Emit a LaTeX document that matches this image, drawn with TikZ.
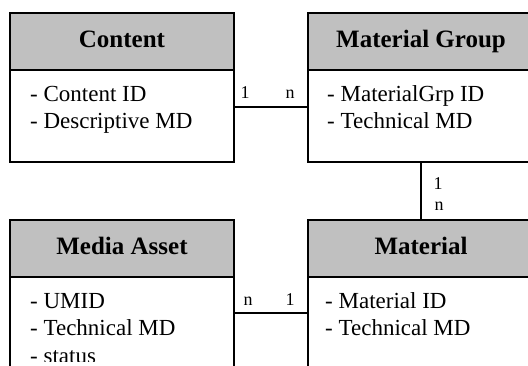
\documentclass[tikz,border=0pt]{standalone}
\usepackage{fontspec}
\setmainfont{Liberation Serif}
\begin{document}
\begin{tikzpicture}[x=1pt,y=-1pt,
  hdr/.style={draw=black,line width=1.6pt,fill={rgb,255:red,192;green,192;blue,192},
    minimum height=57pt,inner sep=0pt,font=\fontsize{25}{28}\selectfont\bfseries,
    text height=17pt,text depth=5pt},
  bodybox/.style={draw=black,line width=1.6pt,fill=white,inner sep=0pt},
  attr/.style={anchor=base west,inner sep=0pt,font=\fontsize{23}{26}\selectfont},
  card/.style={anchor=base,inner sep=0pt,font=\fontsize{18}{20}\selectfont},
  conn/.style={line width=1.6pt}]
\useasboundingbox (0,0) rectangle (528,365);
\clip (0,0) rectangle (528,365);
\fill[white] (0,0) rectangle (528,365);

% bodies
\node[bodybox,minimum width=224pt,minimum height=92pt] (cbody) at (122,116) {};
\node[bodybox,minimum width=226pt,minimum height=92pt] (gbody) at (421,116) {};
\node[bodybox,minimum width=224pt,minimum height=123pt] (abody) at (122,338.5) {};
\node[bodybox,minimum width=226pt,minimum height=123pt] (mbody) at (421,338.5) {};

% headers
\node[hdr,minimum width=224pt] (chead) at (122,41.5) {Content};
\node[hdr,minimum width=226pt] (ghead) at (421,41.5) {Material Group};
\node[hdr,minimum width=224pt] (ahead) at (122,248.5) {Media Asset};
\node[hdr,minimum width=226pt] (mhead) at (421,248.5) {Material};

% attributes
\node[attr] (c1) at (30,101) {- Content ID};
\node[attr] (c2) at (30,128) {- Descriptive MD};
\node[attr] (g1) at (327,101) {- MaterialGrp ID};
\node[attr] (g2) at (327,128) {- Technical MD};
\node[attr] (a1) at (30,308) {- UMID};
\node[attr] (a2) at (30,335) {- Technical MD};
\begin{scope}
\clip (0,0) rectangle (528,361);
\node[attr] (a3) at (30,363) {- status};
\end{scope}
\node[attr] (m1) at (325,308) {- Material ID};
\node[attr] (m2) at (325,335) {- Technical MD};

% connectors
\draw[conn] (cbody.east |- 0,107) -- (gbody.west |- 0,107);
\draw[conn] (gbody.south) -- (mhead.north);
\draw[conn] (abody.east |- 0,313) -- (mbody.west |- 0,313);

% cardinalities
\node[card] (l1) at (245,98) {1};
\node[card] (l2) at (290,98) {n};
\node[card] (l3) at (438,189) {1};
\node[card] (l4) at (439,210) {n};
\node[card] (l5) at (248,305) {n};
\node[card] (l6) at (290,305) {1};
\end{tikzpicture}
\end{document}
